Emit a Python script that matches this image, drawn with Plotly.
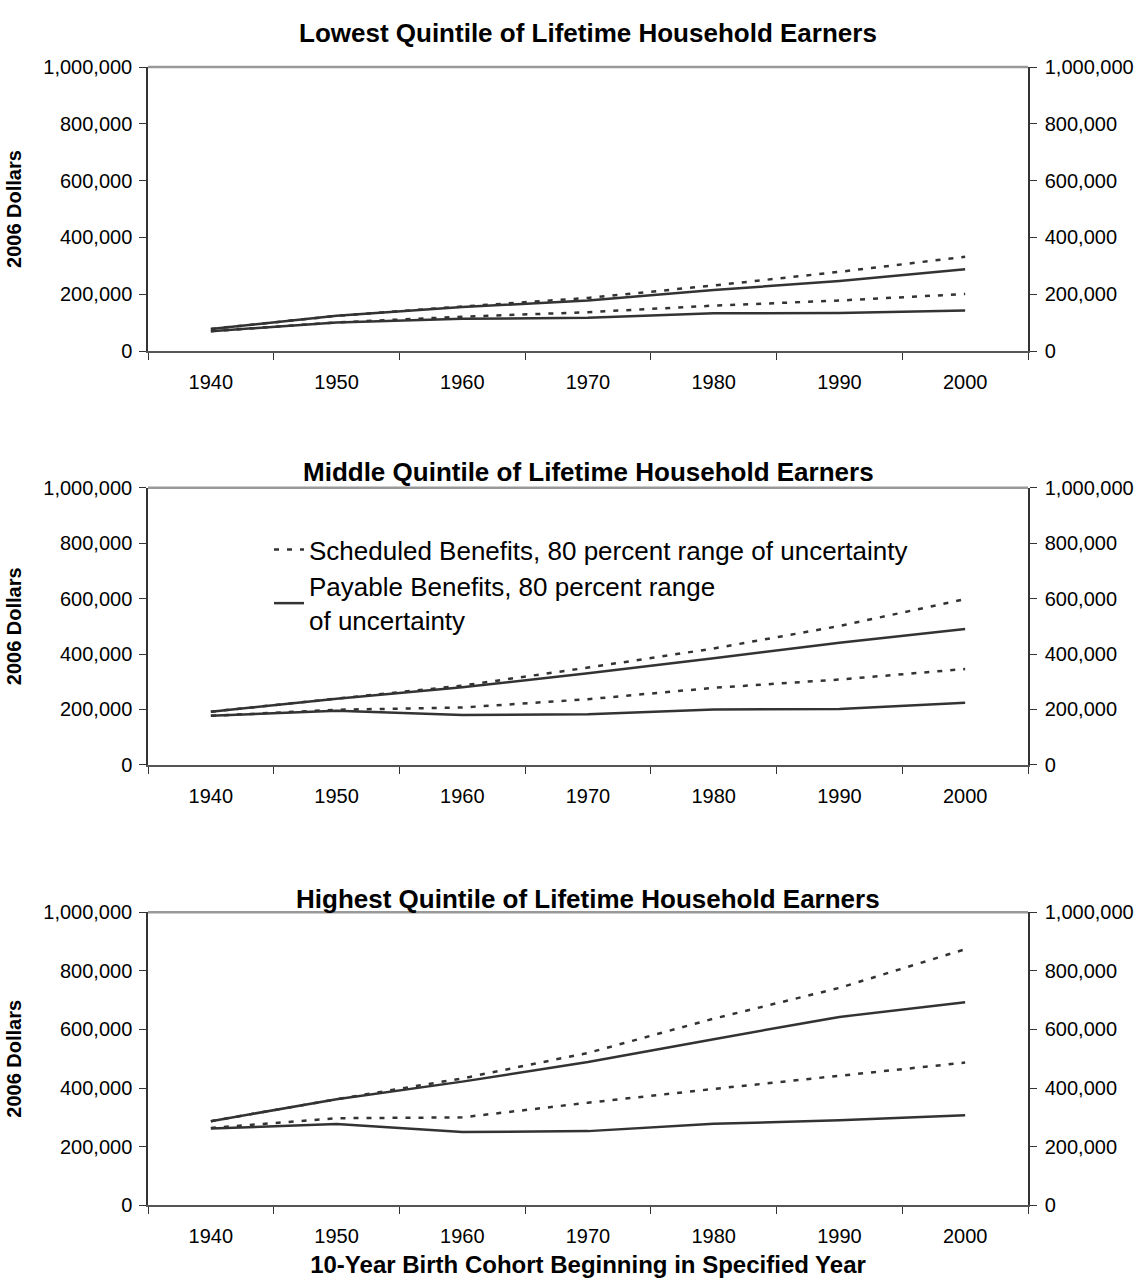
import plotly.graph_objects as go

years = ["1940", "1950", "1960", "1970", "1980", "1990", "2000"]
y_ticks = [0, 200000, 400000, 600000, 800000, 1000000]

titles = [
    "Lowest Quintile of Lifetime Household Earners",
    "Middle Quintile of Lifetime Household Earners",
    "Highest Quintile of Lifetime Household Earners",
]

# Lowest quintile
low_sched_hi = [78000, 124000, 157000, 187000, 231000, 279000, 332000]
low_sched_lo = [70000, 101000, 121000, 137000, 160000, 178000, 201000]
low_pay_hi = [78000, 124000, 155000, 178000, 215000, 247000, 288000]
low_pay_lo = [70000, 101000, 114000, 117000, 133000, 134000, 143000]

# Middle quintile
mid_sched_hi = [192000, 239000, 286000, 351000, 420000, 501000, 598000]
mid_sched_lo = [177000, 199000, 207000, 237000, 278000, 308000, 346000]
mid_pay_hi = [192000, 239000, 280000, 331000, 385000, 441000, 490000]
mid_pay_lo = [177000, 195000, 180000, 183000, 200000, 202000, 224000]

# Highest quintile
high_sched_hi = [287000, 362000, 433000, 520000, 637000, 742000, 874000]
high_sched_lo = [264000, 297000, 300000, 350000, 397000, 443000, 487000]
high_pay_hi = [287000, 362000, 422000, 489000, 567000, 643000, 693000]
high_pay_lo = [262000, 277000, 250000, 253000, 278000, 290000, 307000]

sched_name = "Scheduled Benefits, 80 percent range of uncertainty"
pay_name = "Payable Benefits, 80 percent range<br>of uncertainty"

panels = [
    (low_sched_hi, low_sched_lo, low_pay_hi, low_pay_lo),
    (mid_sched_hi, mid_sched_lo, mid_pay_hi, mid_pay_lo),
    (high_sched_hi, high_sched_lo, high_pay_hi, high_pay_lo),
]

W, H = 1143, 1287
FONT = "Liberation Sans, Arial, sans-serif"
LINE = "#333333"
TICKFONT = dict(family=FONT, size=20, color="#000000")

x_dom = [148 / W, 1028 / W]
y_px = [(57, 346), (485, 767), (917, 1215)]
title_y_px = [22, 469, 903]

fig = go.Figure()
layout = {}
annotations = []
shapes = []

for i, (sh, sl, ph, pl) in enumerate(panels):
    n = i + 1
    xa = "x" if n == 1 else f"x{n}"
    ya = "y" if n == 1 else f"y{n}"
    yr = f"y{n + 3}"
    show = (n == 2)
    dash_line = dict(color=LINE, width=2.5, dash="5px,8px")
    solid_line = dict(color=LINE, width=2.5)
    fig.add_trace(go.Scatter(x=years, y=sh, mode="lines", xaxis=xa, yaxis=ya,
                             line=dash_line, name=sched_name,
                             legendgroup="s", showlegend=show))
    fig.add_trace(go.Scatter(x=years, y=sl, mode="lines", xaxis=xa, yaxis=ya,
                             line=dash_line, name=sched_name,
                             legendgroup="s", showlegend=False))
    fig.add_trace(go.Scatter(x=years, y=ph, mode="lines", xaxis=xa, yaxis=yr,
                             line=solid_line, name=pay_name,
                             legendgroup="p", showlegend=show))
    fig.add_trace(go.Scatter(x=years, y=pl, mode="lines", xaxis=xa, yaxis=yr,
                             line=solid_line, name=pay_name,
                             legendgroup="p", showlegend=False))

    top, bot = y_px[i]
    ydom = [1 - bot / H, 1 - top / H]
    xkey = "xaxis" if n == 1 else f"xaxis{n}"
    ykey = "yaxis" if n == 1 else f"yaxis{n}"
    rkey = f"yaxis{n + 3}"
    layout[xkey] = dict(
        domain=x_dom, anchor=ya, type="category", range=[-0.5, 6.5],
        tickson="boundaries", ticks="outside", ticklen=7, tickwidth=1,
        tickcolor="#333333", showline=True, linecolor="#555555", linewidth=2,
        showgrid=False, zeroline=False, ticklabelstandoff=12,
        tickfont=TICKFONT,
    )
    layout[ykey] = dict(
        domain=ydom, anchor=xa, range=[0, 1000000], tickvals=y_ticks,
        tickformat=",d", ticks="outside", ticklen=7, tickwidth=1,
        tickcolor="#333333", showline=True, linecolor="#333333", linewidth=1.5,
        showgrid=False, zeroline=False, ticklabelstandoff=3,
        tickfont=TICKFONT,
        title=dict(text="<b>2006 Dollars</b>", standoff=16,
                   font=dict(family=FONT, size=20, color="#000000")),
    )
    layout[rkey] = dict(
        domain=ydom, anchor=xa, overlaying=ya, side="right",
        range=[0, 1000000], tickvals=y_ticks, tickformat=",d",
        ticks="outside", ticklen=7, tickwidth=1, tickcolor="#333333",
        showline=True, linecolor="#333333", linewidth=1.5,
        showgrid=False, zeroline=False, ticklabelstandoff=4,
        tickfont=TICKFONT,
    )
    annotations.append(dict(
        text=f"<b>{titles[i]}</b>", xref="paper", yref="paper",
        x=(x_dom[0] + x_dom[1]) / 2, y=1 - title_y_px[i] / H,
        xanchor="center", yanchor="middle", showarrow=False,
        font=dict(family=FONT, size=26, color="#000000"),
    ))
    shapes.append(dict(
        type="line", xref=f"{xa} domain", yref=f"{ya} domain",
        x0=0, x1=1, y0=1, y1=1, line=dict(color="#999999", width=2.5),
    ))

layout["xaxis3"]["title"] = dict(
    text="<b>10-Year Birth Cohort Beginning in Specified Year</b>",
    standoff=10, font=dict(family=FONT, size=24, color="#000000"))

fig.update_layout(
    **layout,
    width=W, height=H,
    margin=dict(l=0, r=0, t=0, b=0),
    paper_bgcolor="white", plot_bgcolor="white",
    annotations=annotations, shapes=shapes,
    showlegend=True,
    legend=dict(x=269 / W, y=1 - 524 / H, xanchor="left", yanchor="top",
                bgcolor="rgba(0,0,0,0)", borderwidth=0,
                font=dict(family=FONT, size=26, color="#000000"),
                tracegroupgap=0, traceorder="normal"),
    font=dict(family=FONT, color="#000000"),
)

fig.write_html(
    "out.html",
    config={"displayModeBar": False},
    post_script="document.body.style.margin='0px';"
                "document.body.style.overflow='hidden';",
)
